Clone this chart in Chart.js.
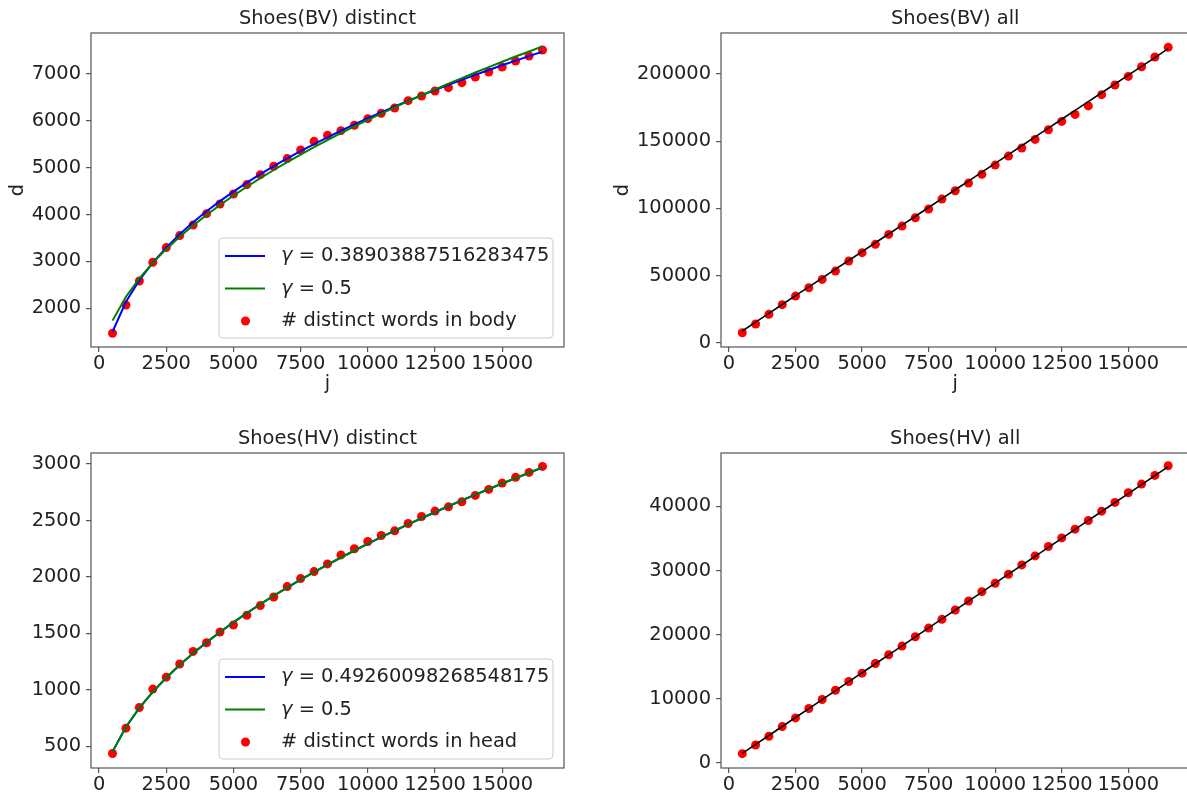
<!DOCTYPE html>
<html lang="en">
<head>
<meta charset="UTF-8">
<title>Shoes: distinct words vs all words</title>
<script src="https://cdn.jsdelivr.net/npm/chart.js"></script>
<style>
  html, body { margin: 0; padding: 0; background: #fff; }
  #fig { position: relative; width: 1187px; height: 795px; overflow: hidden; }
  .panel { position: absolute; }
</style>
</head>
<body>
<div id="fig">
  <div class="panel" style="left:0;top:0;width:600px;height:410px"><canvas id="bvDistinct"></canvas></div>
  <div class="panel" style="left:600px;top:0;width:594px;height:410px"><canvas id="bvAll"></canvas></div>
  <div class="panel" style="left:0;top:420px;width:600px;height:375px"><canvas id="hvDistinct"></canvas></div>
  <div class="panel" style="left:600px;top:420px;width:594px;height:375px"><canvas id="hvAll"></canvas></div>
</div>

<script>
// x values (j) shared by every panel
const jValues = [500, 1000, 1500, 2000, 2500, 3000, 3500, 4000, 4500, 5000, 5500,
  6000, 6500, 7000, 7500, 8000, 8500, 9000, 9500, 10000, 10500, 11000,
  11500, 12000, 12500, 13000, 13500, 14000, 14500, 15000, 15500, 16000, 16500];

const xTicks = [0, 2500, 5000, 7500, 10000, 12500, 15000];
const bvDistinctTicks = [2000, 3000, 4000, 5000, 6000, 7000];
const bvAllTicks = [0, 50000, 100000, 150000, 200000];
const hvDistinctTicks = [500, 1000, 1500, 2000, 2500, 3000];
const hvAllTicks = [0, 10000, 20000, 30000, 40000];

// Shoes(BV) distinct
const bvDistinctWords = [1467, 2071, 2583, 2982, 3295, 3551, 3778, 4020, 4226, 4440, 4639,
  4852, 5030, 5194, 5378, 5563, 5691, 5791, 5905, 6047, 6161, 6275,
  6431, 6531, 6637, 6708, 6815, 6936, 7043, 7149, 7277, 7384, 7512];
const bvFitBlue = [1499, 2138, 2600, 2975, 3295, 3579, 3834, 4070, 4287, 4489, 4681,
  4861, 5034, 5198, 5354, 5505, 5649, 5789, 5925, 6055, 6182, 6306,
  6425, 6543, 6657, 6767, 6874, 6981, 7084, 7185, 7284, 7382, 7478];
const bvFitGreen = [1737, 2248, 2640, 2970, 3262, 3525, 3767, 3992, 4204, 4404, 4594,
  4776, 4951, 5119, 5281, 5438, 5589, 5737, 5880, 6020, 6156, 6289,
  6419, 6546, 6671, 6793, 6913, 7031, 7146, 7260, 7372, 7481, 7590];

// Shoes(BV) all
const bvAllWords = [7400, 13900, 21100, 28300, 34700, 40900, 47100, 53300, 60800, 67000, 73200,
  80600, 86800, 93000, 99500, 106900, 113100, 118800, 125300, 132200, 138900, 144900,
  151300, 158500, 164700, 169900, 176200, 184600, 191800, 198200, 205400, 212600, 219800];
const bvAllFit = [8700, 15300, 21800, 28400, 35000, 41500, 48100, 54700, 61200, 67800, 74400,
  80900, 87500, 94100, 100600, 107200, 113800, 120300, 126900, 133500, 140000, 146600,
  153200, 159700, 166300, 172900, 179400, 186000, 192500, 199100, 205700, 212200, 218800];

// Shoes(HV) distinct
const hvDistinctWords = [435, 660, 843, 1006, 1112, 1228, 1340, 1417, 1512, 1574, 1660,
  1746, 1822, 1914, 1985, 2047, 2115, 2195, 2249, 2314, 2367, 2408,
  2473, 2535, 2583, 2621, 2666, 2722, 2775, 2831, 2882, 2926, 2979];
const hvFitBlue = [452, 671, 840, 981, 1106, 1219, 1323, 1420, 1511, 1597, 1679,
  1758, 1833, 1905, 1975, 2042, 2108, 2171, 2233, 2293, 2352, 2409,
  2465, 2520, 2573, 2626, 2678, 2728, 2778, 2827, 2875, 2922, 2969];
const hvFitGreen = [450, 670, 839, 981, 1107, 1220, 1324, 1421, 1512, 1598, 1680,
  1759, 1834, 1906, 1976, 2043, 2109, 2172, 2234, 2294, 2353, 2410,
  2466, 2521, 2574, 2627, 2679, 2729, 2779, 2828, 2876, 2923, 2970];

// Shoes(HV) all
const hvAllWords = [1460, 2810, 4170, 5680, 7030, 8490, 9900, 11350, 12710, 14010, 15520,
  16880, 18230, 19690, 21040, 22400, 23850, 25260, 26720, 28020, 29430, 30890,
  32290, 33750, 35100, 36460, 37810, 39270, 40630, 42140, 43490, 44840, 46350];
const hvAllFit = [1500, 2900, 4290, 5690, 7090, 8490, 9880, 11280, 12680, 14070, 15470,
  16870, 18260, 19660, 21060, 22460, 23850, 25250, 26650, 28040, 29440, 30840,
  32230, 33630, 35030, 36430, 37820, 39220, 40620, 42010, 43410, 44810, 46200];

const FONT = "'DejaVu Sans', sans-serif";
const FSIZE = 19.4;
Chart.defaults.font.family = FONT;
Chart.defaults.font.size = FSIZE;
Chart.defaults.color = '#222';
Chart.defaults.animation = false;

const pts = ys => jValues.map((x, i) => ({ x: x, y: ys[i] }));

// full box around the axes, like matplotlib spines
const frame = {
  id: 'frame',
  afterDraw(chart) {
    const { ctx, chartArea: a } = chart;
    ctx.save();
    ctx.strokeStyle = '#555';
    ctx.lineWidth = 1.2;
    ctx.strokeRect(a.left, a.top, a.right - a.left, a.bottom - a.top);
    ctx.restore();
  }
};

// legend box in the lower right corner of the axes
const fitLegend = {
  id: 'fitLegend',
  afterDatasetsDraw(chart, args, opts) {
    if (!opts.display) return;
    const { ctx, chartArea: a } = chart;
    const w = 334, h = 100;
    const x = a.right - 11 - w, y = a.bottom - 9 - h;
    ctx.save();
    ctx.beginPath();
    ctx.roundRect(x, y, w, h, 4);
    ctx.fillStyle = 'rgba(255,255,255,0.8)';
    ctx.fill();
    ctx.strokeStyle = '#cccccc';
    ctx.lineWidth = 1;
    ctx.stroke();
    ctx.textBaseline = 'middle';
    chart.data.datasets.forEach((ds, i) => {
      const cy = y + 18 + i * 32.5;
      if (ds.showLine) {
        ctx.strokeStyle = ds.borderColor;
        ctx.lineWidth = 2;
        ctx.beginPath();
        ctx.moveTo(x + 6, cy);
        ctx.lineTo(x + 46, cy);
        ctx.stroke();
      } else {
        ctx.fillStyle = ds.backgroundColor;
        ctx.beginPath();
        ctx.arc(x + 26.5, cy, 4.5, 0, Math.PI * 2);
        ctx.fill();
      }
      ctx.fillStyle = '#222';
      let tx = x + 62;
      let label = ds.label;
      if (label.startsWith('γ')) {
        ctx.font = 'italic ' + FSIZE + 'px ' + FONT;
        ctx.fillText('γ', tx, cy);
        tx += ctx.measureText('γ').width;
        label = label.slice(1);
      }
      ctx.font = FSIZE + 'px ' + FONT;
      ctx.fillText(label, tx, cy);
    });
    ctx.restore();
  }
};

function xAxis(showTitle, height) {
  return {
    type: 'linear',
    min: -300,
    max: 17300,
    afterBuildTicks: s => { s.ticks = xTicks.map(v => ({ value: v })); },
    afterFit: s => { s.height = height; },
    grid: { drawOnChartArea: false, drawTicks: true, tickLength: 5, color: '#555', lineWidth: 1.2 },
    border: { display: false },
    ticks: { padding: 0, maxRotation: 0, autoSkip: false, callback: v => String(v) },
    title: { display: showTitle, text: 'j', padding: { top: 0, bottom: 14 } }
  };
}

function yAxis(ticks, min, max, width, showTitle, titlePad) {
  return {
    type: 'linear',
    min: min,
    max: max,
    afterBuildTicks: s => { s.ticks = ticks.map(v => ({ value: v })); },
    afterFit: s => { s.width = width; },
    grid: { drawOnChartArea: false, drawTicks: true, tickLength: 5, color: '#555', lineWidth: 1.2 },
    border: { display: false },
    ticks: { padding: 5, autoSkip: false, callback: v => String(v) },
    title: { display: showTitle, text: 'd', padding: { top: titlePad, bottom: 0 } }
  };
}

function panel(id, title, datasets, x, y, padRight, withLegend) {
  new Chart(document.getElementById(id), {
    type: 'scatter',
    data: { datasets: datasets },
    plugins: [frame, fitLegend],
    options: {
      responsive: true,
      maintainAspectRatio: false,
      layout: { padding: { left: 0, right: padRight, top: 0, bottom: 0 } },
      scales: { x: x, y: y },
      plugins: {
        legend: { display: false },
        tooltip: { enabled: false },
        title: {
          display: true, text: title, fullSize: false,
          font: { size: FSIZE, weight: 'normal' }, color: '#222',
          padding: { top: 7.35, bottom: 2.35 }
        },
        fitLegend: { display: withLegend }
      }
    }
  });
}

// lower "order" is painted last, so the green fit sits on top of the blue one, dots underneath
const fitLine = (label, ys, color, width, order) => ({
  label: label, data: pts(ys), showLine: true, borderColor: color, backgroundColor: color,
  borderWidth: width, pointRadius: 0, tension: 0, order: order
});
const dots = (label, ys) => ({
  label: label, data: pts(ys), backgroundColor: 'red', borderWidth: 0, pointRadius: 4.5, order: 5
});

panel('bvDistinct', 'Shoes(BV) distinct', [
  fitLine('γ = 0.38903887516283475', bvFitBlue, 'blue', 2, 1),
  fitLine('γ = 0.5', bvFitGreen, 'green', 2, 0),
  dots('# distinct words in body', bvDistinctWords)
], xAxis(true, 63), yAxis(bvDistinctTicks, 1174, 7875, 91, true, 6.4), 36, true);

panel('bvAll', 'Shoes(BV) all', [
  fitLine('fit', bvAllFit, 'black', 1.6, 0),
  dots('# words in body', bvAllWords)
], xAxis(true, 63), yAxis(bvAllTicks, -3200, 230500, 121, true, 11.4), 0, false);

panel('hvDistinct', 'Shoes(HV) distinct', [
  fitLine('γ = 0.49260098268548175', hvFitBlue, 'blue', 2, 1),
  fitLine('γ = 0.5', hvFitGreen, 'green', 2, 0),
  dots('# distinct words in head', hvDistinctWords)
], xAxis(false, 27), yAxis(hvDistinctTicks, 307, 3098, 91, false, 0), 36, true);

panel('hvAll', 'Shoes(HV) all', [
  fitLine('fit', hvAllFit, 'black', 1.6, 0),
  dots('# words in head', hvAllWords)
], xAxis(false, 27), yAxis(hvAllTicks, -780, 48340, 121, false, 0), 0, false);
</script>
</body>
</html>
